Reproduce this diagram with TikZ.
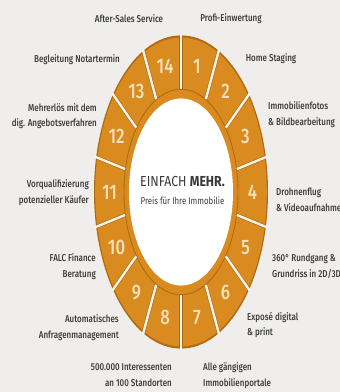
\documentclass[tikz,border=0pt]{standalone}
\usepackage{fontspec}
\setmainfont{Fira Sans}[FakeStretch=0.8, UprightFont=* Medium, BoldFont=* Bold]
\newfontfamily\headface{Fira Sans}[FakeStretch=0.85]
\newfontfamily\subface{Fira Sans}[FakeStretch=0.8]
\definecolor{bggray}{HTML}{EFEEEC}
\definecolor{ringorange}{HTML}{D98B1F}
\definecolor{ringdark}{HTML}{B06A10}
\definecolor{gapwhite}{HTML}{FAF4EA}
\definecolor{numcream}{HTML}{F5E0BC}
\definecolor{textgray}{HTML}{3A3A3A}
\tikzstyle{gap}=[draw=gapwhite, line width=2.4pt]
\tikzstyle{gapshade}=[draw=ringdark, line width=3.6pt]
\tikzstyle{segnum}=[text=numcream, font=\fontsize{21}{21}\selectfont]
\tikzstyle{svc}=[text=textgray, font=\fontsize{10}{15.5}\selectfont, inner sep=0pt]
\tikzstyle{headtext}=[text=textgray, inner sep=0pt]

\begin{document}
\begin{tikzpicture}[x=1pt, y=1pt]
      \fill[bggray] (0,0) rectangle (340,392);
      \useasboundingbox (0,0) rectangle (340,392);
      % ring of 14 segments
      \begin{scope}[shift={(181,200)}, yscale=1.8]
        \fill[ringdark] (0,0) circle[radius=87];
        \fill[ringorange] (0,0) circle[radius=85.8];
        \draw[ringdark, line width=0.9pt] (0,0) circle[radius=57];
        \fill[white] (0,0) circle[radius=52];
        \foreach \k in {0,...,13} {%
          \draw[gapshade] ({90-\k*360/14}:57.3) -- ({90-\k*360/14}:86.5);
          \draw[gap] ({90-\k*360/14}:57.3) -- ({90-\k*360/14}:88);
        }
        \foreach \n in {1,...,14} {%
          \node[segnum] (n\n) at ({90-(\n-0.5)*360/14}:71.5) {\n};
        }
      \end{scope}
      \node[headtext, font=\headface\fontsize{14.5}{14.5}\selectfont] (head) at (182.5,210) {EINFACH \textbf{MEHR.}};
      \node[headtext, font=\subface\fontsize{9.8}{9.8}\selectfont] (sub) at (182.5,191) {Preis für Ihre Immobilie};
      % services
      \node[svc] (aftersales) at (129,373) {After-Sales Service};
      \node[svc] (profi) at (231,373) {Profi-Einwertung};
      \node[svc] (notar) at (77,332) {Begleitung Notartermin};
      \node[svc] (staging) at (271,333) {Home Staging};
      \node[svc, anchor=east, align=right] (mehrerloes) at (97,276) {Mehrerlös mit dem\\dig. Angebotsverfahren};
      \node[svc, anchor=west, align=left] (fotos) at (268,277.5) {Immobilienfotos\\\& Bildbearbeitung};
      \node[svc, anchor=east, align=right] (vorquali) at (89,199.5) {Vorqualifizierung\\potenzieller Käufer};
      \node[svc, anchor=west, align=left] (drohne) at (276,192) {Drohnenflug\\\& Videoaufnahme};
      \node[svc, anchor=east, align=right] (falc) at (96,125.5) {FALC Finance\\Beratung};
      \node[svc, anchor=west, align=left] (rundgang) at (272,125.5) {360° Rundgang \&\\Grundriss in 2D/3D};
      \node[svc, anchor=east, align=right] (anfragen) at (119,64.5) {Automatisches\\Anfragenmanagement};
      \node[svc, anchor=west, align=left] (expose) at (247,67) {Exposé digital\\\& print};
      \node[svc, anchor=east, align=right] (interessenten) at (172,17) {500.000 Interessenten\\an 100 Standorten};
      \node[svc, anchor=west, align=left] (portale) at (203,16.5) {Alle gängigen\\Immobilienportale};
    \end{tikzpicture}
\end{document}
